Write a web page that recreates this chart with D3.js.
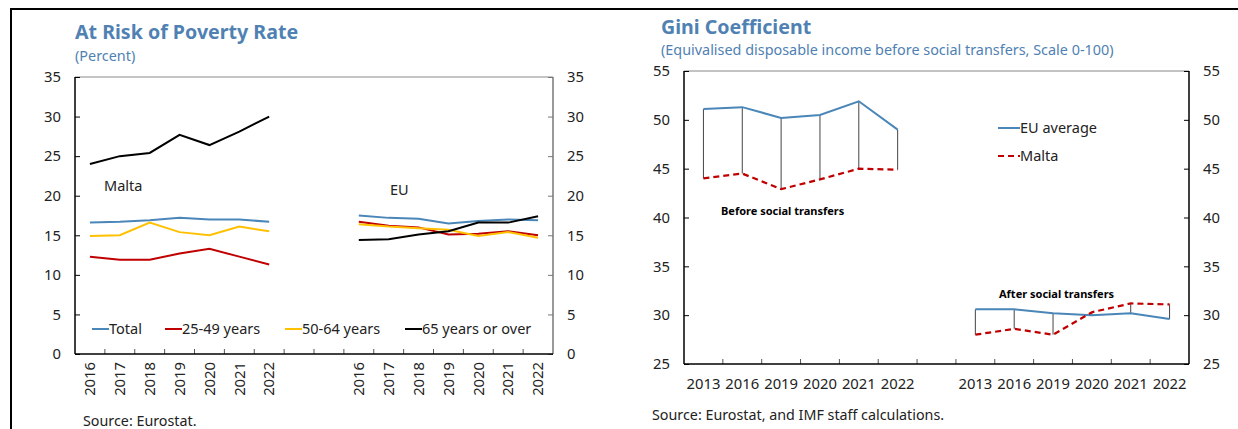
<!DOCTYPE html>
<html>
<head>
<meta charset="utf-8">
<script src="https://cdn.jsdelivr.net/npm/d3@7"></script>
<style>
  body { margin: 0; background: #fff; }
  svg { display: block; font-family: "Noto Sans", "Open Sans", sans-serif; }
</style>
</head>
<body>
<svg id="chart" width="1238" height="429"></svg>
<script>
// ---- At risk of poverty rate (percent) ----
const years = ['2016', '2017', '2018', '2019', '2020', '2021', '2022'];
const groups = ['Malta', 'EU'];
const totalMalta = [16.6, 16.7, 16.9, 17.2, 17.0, 17.0, 16.7];
const totalEU = [17.5, 17.2, 17.1, 16.5, 16.8, 17.0, 16.9];
const age2549Malta = [12.3, 11.9, 11.9, 12.7, 13.3, 12.3, 11.3];
const age2549EU = [16.7, 16.2, 16.0, 15.1, 15.2, 15.5, 15.0];
const age5064Malta = [14.9, 15.0, 16.6, 15.4, 15.0, 16.1, 15.5];
const age5064EU = [16.4, 16.1, 15.9, 15.7, 14.9, 15.4, 14.7];
const age65Malta = [24.0, 25.0, 25.4, 27.7, 26.4, 28.1, 30.0];
const age65EU = [14.4, 14.5, 15.1, 15.5, 16.6, 16.6, 17.4];
const povertyTicks = [0, 5, 10, 15, 20, 25, 30, 35];

// ---- Gini coefficient ----
const giniYears = ['2013', '2016', '2019', '2020', '2021', '2022'];
const giniBeforeEU = [51.1, 51.3, 50.2, 50.5, 51.9, 49.0];
const giniBeforeMalta = [44.0, 44.5, 42.9, 43.9, 45.0, 44.9];
const giniAfterEU = [30.6, 30.6, 30.2, 30.0, 30.2, 29.6];
const giniAfterMalta = [28.0, 28.6, 28.0, 30.3, 31.2, 31.1];
const giniTicks = [25, 30, 35, 40, 45, 50, 55];

const blue = '#4a86b8';
const red = '#c00000';
const yellow = '#ffc000';
const titleBlue = '#4f81b3';
const textColor = '#222';

const svg = d3.select('#chart');

// outer frame of the report
svg.append('line').attr('x1', 10).attr('x2', 1238).attr('y1', 9).attr('y2', 9)
    .attr('stroke', '#000').attr('stroke-width', 2);
svg.append('line').attr('x1', 11).attr('x2', 11).attr('y1', 9).attr('y2', 429)
    .attr('stroke', '#000').attr('stroke-width', 2);

class PovertyChart {
    constructor(_config) {
        this.config = _config;
        this.initVis();
    }

    initVis() {
        let vis = this;
        const c = vis.config;

        // 7 Malta slots, 2 empty slots, 7 EU slots
        vis.slots = years.map(y => 'M' + y)
            .concat(['gap1', 'gap2'])
            .concat(years.map(y => 'E' + y));

        vis.xScale = d3.scaleBand().domain(vis.slots).range([c.left, c.right]).padding(0);
        vis.yScale = d3.scaleLinear().domain([0, 35]).range([c.bottom, c.top]);

        vis.g = svg.append('g');

        vis.g.append('text').attr('x', 75).attr('y', 39)
            .attr('fill', titleBlue).attr('font-weight', 'bold').attr('font-size', 19.6)
            .text('At Risk of Poverty Rate');
        vis.g.append('text').attr('x', 75).attr('y', 61)
            .attr('fill', titleBlue).attr('font-size', 14.4)
            .text('(Percent)');

        // frame: top gray, right gray, left/bottom black
        vis.g.append('line').attr('x1', c.left).attr('x2', c.right).attr('y1', c.top).attr('y2', c.top)
            .attr('stroke', '#888');
        vis.g.append('line').attr('x1', c.right).attr('x2', c.right).attr('y1', c.top).attr('y2', c.bottom)
            .attr('stroke', '#777').attr('stroke-width', 1.5);

        const yLeft = d3.axisLeft(vis.yScale).tickValues(povertyTicks).tickSize(-5).tickPadding(14);
        const yRight = d3.axisRight(vis.yScale).tickValues(povertyTicks).tickSize(-5).tickPadding(14);
        vis.styleAxis(vis.g.append('g').attr('transform', `translate(${c.left},0)`).call(yLeft), '#000');
        vis.styleAxis(vis.g.append('g').attr('transform', `translate(${c.right},0)`).call(yRight), '#777');
        vis.g.selectAll('.domain').remove();
        vis.g.append('line').attr('x1', c.left).attr('x2', c.left).attr('y1', c.top).attr('y2', c.bottom)
            .attr('stroke', '#000').attr('stroke-width', 1.5);

        // x axis: ticks at slot boundaries, rotated labels under each slot
        const xAxis = d3.axisBottom(vis.xScale).tickSize(0).tickPadding(8)
            .tickFormat(d => d.startsWith('gap') ? '' : d.slice(1));
        const xg = vis.g.append('g').attr('transform', `translate(0,${c.bottom})`).call(xAxis);
        xg.select('.domain').remove();
        xg.selectAll('text')
            .attr('transform', 'rotate(-90)')
            .attr('text-anchor', 'end')
            .attr('dy', '0.35em')
            .attr('x', -8).attr('y', 0)
            .attr('font-size', 14.8).attr('fill', textColor)
            .attr('font-family', '"Noto Sans", sans-serif');
        vis.g.selectAll('.boundary')
            .data(d3.range(1, vis.slots.length))
            .join('line')
            .attr('x1', i => c.left + i * vis.xScale.step())
            .attr('x2', i => c.left + i * vis.xScale.step())
            .attr('y1', c.bottom).attr('y2', c.bottom - 5)
            .attr('stroke', '#555');
        vis.g.append('line').attr('x1', c.left).attr('x2', c.right).attr('y1', c.bottom).attr('y2', c.bottom)
            .attr('stroke', '#000').attr('stroke-width', 1.5);

        vis.series = [
            { name: 'Total', color: blue, malta: totalMalta, eu: totalEU },
            { name: '25-49 years', color: red, malta: age2549Malta, eu: age2549EU },
            { name: '50-64 years', color: yellow, malta: age5064Malta, eu: age5064EU },
            { name: '65 years or over', color: '#000', malta: age65Malta, eu: age65EU }
        ];

        vis.renderVis();
    }

    styleAxis(sel, color) {
        sel.selectAll('.tick line').attr('stroke', color);
        sel.selectAll('.tick text').attr('font-size', 14.8).attr('fill', textColor)
            .attr('font-family', '"Noto Sans", sans-serif');
    }

    renderVis() {
        let vis = this;
        const xc = d => vis.xScale(d) + vis.xScale.bandwidth() / 2;
        const line = d3.line().x(d => xc(d.slot)).y(d => vis.yScale(d.v));

        vis.series.forEach(s => {
            [['M', s.malta], ['E', s.eu]].forEach(([p, vals]) => {
                vis.g.append('path')
                    .datum(vals.map((v, i) => ({ slot: p + years[i], v })))
                    .attr('d', line)
                    .attr('fill', 'none')
                    .attr('stroke', s.color)
                    .attr('stroke-width', 2);
            });
        });

        // group labels
        vis.g.append('text').attr('x', 104).attr('y', 191)
            .attr('font-size', 14.5).attr('fill', textColor).text(groups[0]);
        vis.g.append('text').attr('x', 390).attr('y', 195)
            .attr('font-size', 14.5).attr('fill', textColor).text(groups[1]);

        // legend
        const legendX = [92, 165, 285, 405];
        const legend = vis.g.selectAll('.legend')
            .data(vis.series)
            .join('g')
            .attr('transform', (d, i) => `translate(${legendX[i]},329)`);
        legend.append('line').attr('x1', 0).attr('x2', 17).attr('y1', 0).attr('y2', 0)
            .attr('stroke', d => d.color).attr('stroke-width', 2);
        legend.append('text').attr('x', 17).attr('y', 5)
            .attr('font-size', 14.5).attr('fill', textColor).text(d => d.name);

        vis.g.append('text').attr('x', 83).attr('y', 426)
            .attr('font-size', 14.3).attr('fill', textColor).text('Source: Eurostat.');
    }
}

class GiniChart {
    constructor(_config) {
        this.config = _config;
        this.initVis();
    }

    initVis() {
        let vis = this;
        const c = vis.config;

        // 6 "before" slots, 1 empty slot, 6 "after" slots
        vis.slots = giniYears.map(y => 'B' + y)
            .concat(['gap'])
            .concat(giniYears.map(y => 'A' + y));

        vis.xScale = d3.scaleBand().domain(vis.slots).range([c.left, c.right]).padding(0);
        vis.yScale = d3.scaleLinear().domain([25, 55]).range([c.bottom, c.top]);

        vis.g = svg.append('g');

        vis.g.append('text').attr('x', 661).attr('y', 34)
            .attr('fill', titleBlue).attr('font-weight', 'bold').attr('font-size', 19.6)
            .text('Gini Coefficient');
        vis.g.append('text').attr('x', 661).attr('y', 55)
            .attr('fill', titleBlue).attr('font-size', 14.4)
            .text('(Equivalised disposable income before social transfers, Scale 0-100)');

        vis.g.append('line').attr('x1', c.left).attr('x2', c.right).attr('y1', c.top).attr('y2', c.top)
            .attr('stroke', '#888');

        const yLeft = d3.axisLeft(vis.yScale).tickValues(giniTicks).tickSize(-5).tickPadding(14);
        const yRight = d3.axisRight(vis.yScale).tickValues(giniTicks).tickSize(-5).tickPadding(14);
        vis.styleAxis(vis.g.append('g').attr('transform', `translate(${c.left},0)`).call(yLeft));
        vis.styleAxis(vis.g.append('g').attr('transform', `translate(${c.right},0)`).call(yRight));
        vis.g.selectAll('.domain').remove();
        vis.g.append('line').attr('x1', c.left).attr('x2', c.left).attr('y1', c.top).attr('y2', c.bottom)
            .attr('stroke', '#000').attr('stroke-width', 1.5);
        vis.g.append('line').attr('x1', c.right).attr('x2', c.right).attr('y1', c.top).attr('y2', c.bottom)
            .attr('stroke', '#000').attr('stroke-width', 1.5);

        const xAxis = d3.axisBottom(vis.xScale).tickSize(0).tickPadding(14)
            .tickFormat(d => d === 'gap' ? '' : d.slice(1));
        const xg = vis.g.append('g').attr('transform', `translate(0,${c.bottom})`).call(xAxis);
        xg.select('.domain').remove();
        xg.selectAll('text').attr('font-size', 14.8).attr('fill', textColor)
            .attr('font-family', '"Noto Sans", sans-serif');
        vis.g.selectAll('.boundary')
            .data(d3.range(1, vis.slots.length))
            .join('line')
            .attr('x1', i => c.left + i * vis.xScale.step())
            .attr('x2', i => c.left + i * vis.xScale.step())
            .attr('y1', c.bottom).attr('y2', c.bottom - 5)
            .attr('stroke', '#555');
        vis.g.append('line').attr('x1', c.left).attr('x2', c.right).attr('y1', c.bottom).attr('y2', c.bottom)
            .attr('stroke', '#000').attr('stroke-width', 1.5);

        vis.renderVis();
    }

    styleAxis(sel) {
        sel.selectAll('.tick line').attr('stroke', '#000');
        sel.selectAll('.tick text').attr('font-size', 14.8).attr('fill', textColor)
            .attr('font-family', '"Noto Sans", sans-serif');
    }

    renderVis() {
        let vis = this;
        const xc = d => vis.xScale(d) + vis.xScale.bandwidth() / 2;

        const blocks = [
            { prefix: 'B', eu: giniBeforeEU, malta: giniBeforeMalta },
            { prefix: 'A', eu: giniAfterEU, malta: giniAfterMalta }
        ];

        blocks.forEach(b => {
            const pts = giniYears.map((y, i) => ({ slot: b.prefix + y, eu: b.eu[i], malta: b.malta[i] }));

            // high-low connectors
            vis.g.selectAll(null)
                .data(pts)
                .join('line')
                .attr('x1', d => xc(d.slot)).attr('x2', d => xc(d.slot))
                .attr('y1', d => vis.yScale(d.eu)).attr('y2', d => vis.yScale(d.malta))
                .attr('stroke', '#444').attr('stroke-width', 1);

            vis.g.append('path')
                .datum(pts)
                .attr('d', d3.line().x(d => xc(d.slot)).y(d => vis.yScale(d.eu)))
                .attr('fill', 'none').attr('stroke', blue).attr('stroke-width', 2);
            vis.g.append('path')
                .datum(pts)
                .attr('d', d3.line().x(d => xc(d.slot)).y(d => vis.yScale(d.malta)))
                .attr('fill', 'none').attr('stroke', red).attr('stroke-width', 2.2)
                .attr('stroke-dasharray', '6,4');
        });

        vis.g.append('text').attr('x', 721).attr('y', 215)
            .attr('font-size', 11).attr('font-weight', 'bold').attr('fill', '#000')
            .text('Before social transfers');
        vis.g.append('text').attr('x', 999).attr('y', 298)
            .attr('font-size', 11).attr('font-weight', 'bold').attr('fill', '#000')
            .text('After social transfers');

        // legend
        const legendItems = [
            { name: 'EU average', color: blue, dash: null, y: 128 },
            { name: 'Malta', color: red, dash: '6,4', y: 156 }
        ];
        const legend = vis.g.selectAll('.legend')
            .data(legendItems)
            .join('g')
            .attr('transform', d => `translate(998,${d.y})`);
        legend.append('line').attr('x1', 0).attr('x2', 22).attr('y1', 0).attr('y2', 0)
            .attr('stroke', d => d.color).attr('stroke-width', 2)
            .attr('stroke-dasharray', d => d.dash);
        legend.append('text').attr('x', 22).attr('y', 5)
            .attr('font-size', 14.5).attr('fill', textColor).text(d => d.name);

        vis.g.append('text').attr('x', 652).attr('y', 420)
            .attr('font-size', 14.3).attr('fill', textColor)
            .text('Source: Eurostat, and IMF staff calculations.');
    }
}

new PovertyChart({ left: 75, right: 553, top: 77, bottom: 354 });
new GiniChart({ left: 684, right: 1189, top: 71, bottom: 364 });
</script>
</body>
</html>
